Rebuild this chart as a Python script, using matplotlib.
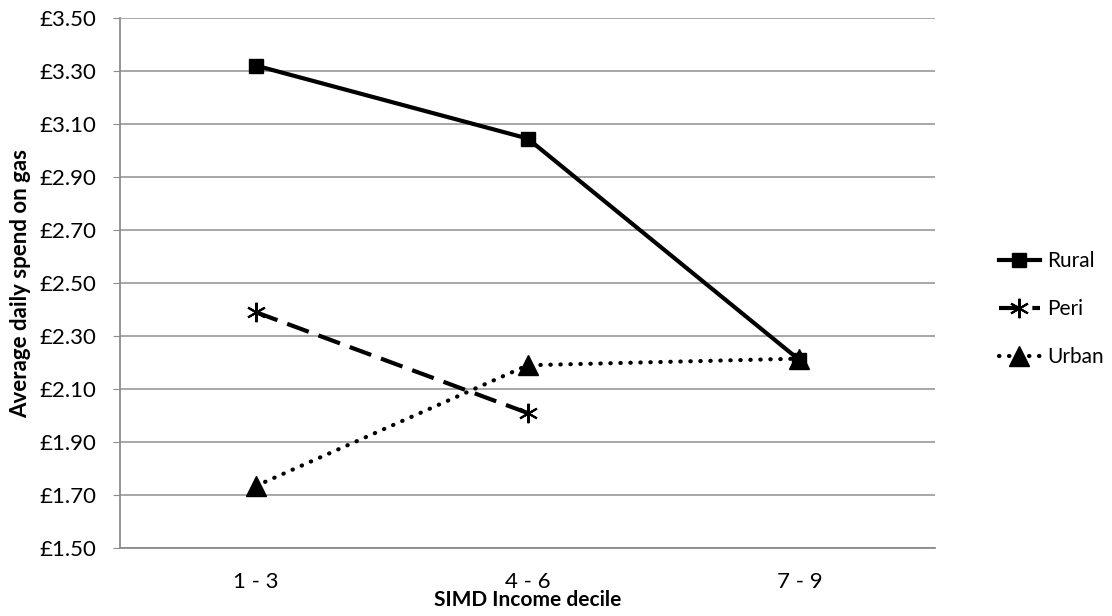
import numpy as np
import matplotlib.pyplot as plt
from matplotlib.ticker import FuncFormatter

plt.rcParams['font.family'] = ['Lato', 'DejaVu Sans']

categories = ['1 - 3', '4 - 6', '7 - 9']
rural = [3.32, 3.045, 2.21]
peri = [2.39, 2.01]
urban = [1.735, 2.19, 2.215]
y_ticks = [1.50, 1.70, 1.90, 2.10, 2.30, 2.50, 2.70, 2.90, 3.10, 3.30, 3.50]

fig = plt.figure(figsize=(11.12, 6.16), dpi=100)
ax = fig.add_axes([0.108, 0.110, 0.733, 0.861])

x = np.arange(len(categories)) + 0.5

ax.plot(x, rural, color='black', linewidth=3, marker='s', markersize=10,
        label='Rural')
ax.plot(x[:len(peri)], peri, color='black', linewidth=3, linestyle=(0, (5.5, 2.5)),
        marker=(6, 2, 0), markersize=14, markeredgewidth=1.5, label='Peri')
ax.plot(x, urban, color='black', linewidth=3, linestyle=(0, (0.1, 2.3)),
        dash_capstyle='round', marker='^', markersize=14, label='Urban')

ax.set_xlim(0, 3)
ax.set_ylim(1.5, 3.5)
ax.set_yticks(y_ticks)
ax.yaxis.set_major_formatter(FuncFormatter(lambda v, p: '£{:.2f}'.format(v)))
ax.set_xticks(x)
ax.set_xticklabels(categories)
ax.grid(axis='y', color='#a0a0a0', linewidth=1.3)
ax.set_axisbelow(True)

for s in ['top', 'right']:
    ax.spines[s].set_visible(False)
for s in ['left', 'bottom']:
    ax.spines[s].set_color('#8c8c8c')
    ax.spines[s].set_linewidth(1.3)

ax.tick_params(axis='y', labelsize=16, length=5, color='#8c8c8c', pad=12)
ax.tick_params(axis='x', labelsize=16, length=0, pad=17)

ax.set_ylabel('Average daily spend on gas', fontsize=16, fontweight='bold',
              labelpad=6)
ax.set_xlabel('SIMD Income decile', fontsize=15, fontweight='bold',
              labelpad=-1)

fig.legend(loc='center left', bbox_to_anchor=(0.898, 0.498), frameon=False,
           fontsize=15, handlelength=2.0, labelspacing=1.35, handletextpad=0.35,
           borderaxespad=0, borderpad=0)

fig.savefig('out.png', dpi=100)
